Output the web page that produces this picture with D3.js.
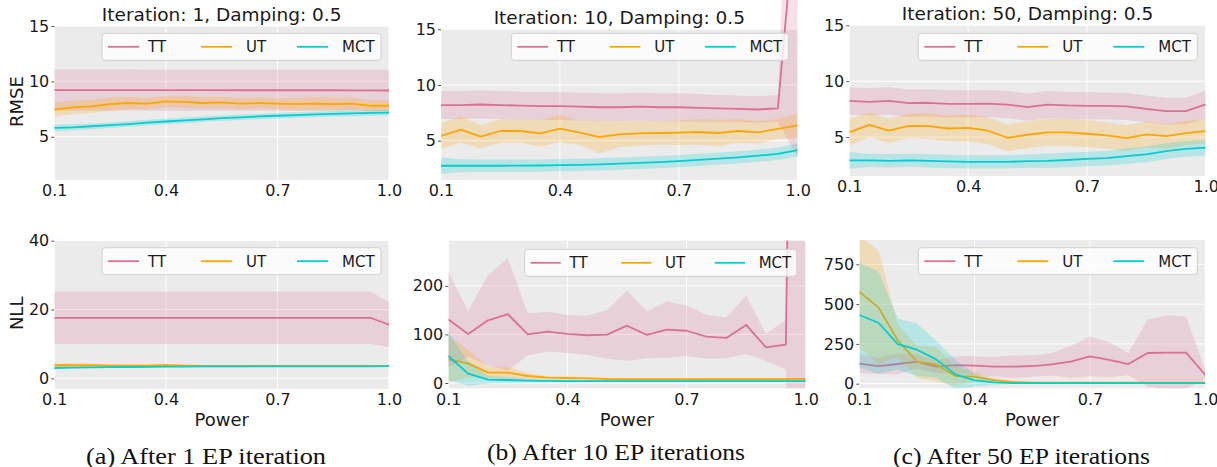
<!DOCTYPE html>
<html>
<head>
<meta charset="utf-8">
<script src="https://cdn.jsdelivr.net/npm/d3@7/dist/d3.min.js"></script>
<style>
  html, body { margin: 0; padding: 0; background: #ffffff; }
  svg { display: block; }
</style>
</head>
<body>
<svg id="chart" width="1217" height="467"></svg>
<script>
// EP power sweep: RMSE / NLL for the three moment-matching methods
const powers = [0.1, 0.15, 0.2, 0.25, 0.3, 0.35, 0.4, 0.45, 0.5, 0.55, 0.6, 0.65, 0.7, 0.75, 0.8, 0.85, 0.9, 0.95, 1.0];
const methods = ["TT", "UT", "MCT"];
const xTickValues = [0.1, 0.4, 0.7, 1.0];
const rmseTicks = [5, 10, 15];
const nllTicks1 = [0, 20, 40];
const nllTicks10 = [0, 100, 200];
const nllTicks50 = [0, 250, 500, 750];
const titles = ["Iteration: 1, Damping: 0.5", "Iteration: 10, Damping: 0.5", "Iteration: 50, Damping: 0.5"];
const captions = ["(a) After 1 EP iteration", "(b) After 10 EP iterations", "(c) After 50 EP iterations"];

// ---- RMSE after 1 iteration
const rmse1TT     = [9.22, 9.22, 9.22, 9.22, 9.22, 9.21, 9.21, 9.21, 9.21, 9.21, 9.2, 9.2, 9.2, 9.2, 9.2, 9.2, 9.19, 9.19, 9.18];
const rmse1TTStd  = [1.85, 1.85, 1.85, 1.85, 1.85, 1.85, 1.85, 1.85, 1.85, 1.85, 1.85, 1.85, 1.85, 1.85, 1.85, 1.85, 1.85, 1.85, 1.85];
const rmse1UT     = [7.45, 7.65, 7.75, 7.95, 8.05, 8.0, 8.2, 8.15, 8.05, 8.1, 8.0, 8.05, 8.0, 7.95, 8.0, 7.95, 8.0, 7.8, 7.8];
const rmse1UTStd  = [0.65, 0.6, 0.6, 0.6, 0.55, 0.5, 0.5, 0.5, 0.5, 0.5, 0.5, 0.5, 0.5, 0.55, 0.6, 0.6, 0.55, 0.5, 0.5];
const rmse1MCT    = [5.8, 5.85, 5.95, 6.05, 6.15, 6.28, 6.38, 6.48, 6.58, 6.68, 6.76, 6.84, 6.9, 6.96, 7.02, 7.07, 7.11, 7.15, 7.18];
const rmse1MCTStd = [0.3, 0.28, 0.26, 0.25, 0.25, 0.25, 0.25, 0.25, 0.25, 0.25, 0.25, 0.25, 0.25, 0.25, 0.25, 0.25, 0.25, 0.25, 0.25];

// ---- RMSE after 10 iterations
const rmse10TT     = [8.2, 8.2, 8.25, 8.2, 8.15, 8.1, 8.1, 8.05, 8.0, 8.0, 8.05, 8.0, 8.0, 7.95, 7.9, 7.85, 7.8, 7.9, 28];
const rmse10TTStd  = [1.25, 1.25, 1.25, 1.25, 1.25, 1.25, 1.25, 1.25, 1.25, 1.25, 1.25, 1.25, 1.25, 1.25, 1.2, 1.2, 1.2, 1.2, 24.5];
const rmse10UT     = [5.42, 5.99, 5.36, 5.87, 5.87, 5.66, 6.08, 5.72, 5.33, 5.57, 5.66, 5.69, 5.72, 5.78, 5.69, 5.87, 5.75, 6.05, 6.38];
const rmse10UTStd  = [1.15, 1.17, 1.04, 1.05, 1.05, 1.2, 1.22, 1.1, 1.45, 1.15, 1.1, 1.05, 1.1, 1.15, 1.2, 1.05, 1.0, 0.9, 1.08];
const rmse10MCT    = [2.75, 2.75, 2.75, 2.75, 2.76, 2.77, 2.8, 2.83, 2.88, 2.94, 3.0, 3.08, 3.17, 3.27, 3.38, 3.5, 3.65, 3.82, 4.15];
const rmse10MCTStd = [0.75, 0.58, 0.55, 0.55, 0.55, 0.55, 0.55, 0.55, 0.55, 0.55, 0.55, 0.55, 0.55, 0.55, 0.55, 0.55, 0.55, 0.55, 0.6];

// ---- RMSE after 50 iterations
const rmse50TT     = [8.24, 8.15, 8.24, 8.04, 8.07, 7.98, 7.98, 8.0, 7.9, 7.68, 7.9, 7.83, 7.8, 7.8, 7.74, 7.53, 7.32, 7.32, 7.92];
const rmse50TTStd  = [1.22, 1.22, 1.22, 1.22, 1.22, 1.22, 1.22, 1.22, 1.22, 1.22, 1.22, 1.22, 1.22, 1.2, 1.2, 1.2, 1.2, 1.2, 1.25];
const rmse50UT     = [5.42, 6.1, 5.57, 6.01, 5.98, 5.77, 5.83, 5.57, 4.94, 5.21, 5.42, 5.42, 5.3, 5.15, 4.91, 5.24, 5.09, 5.36, 5.54];
const rmse50UTStd  = [1.2, 1.1, 1.1, 1.1, 1.15, 1.15, 1.2, 1.2, 1.2, 1.2, 1.2, 1.2, 1.2, 1.2, 1.15, 1.15, 1.1, 1.1, 1.1];
const rmse50MCT    = [2.92, 2.92, 2.88, 2.92, 2.88, 2.82, 2.78, 2.78, 2.78, 2.85, 2.88, 2.95, 3.05, 3.12, 3.3, 3.45, 3.75, 3.95, 4.05];
const rmse50MCTStd = [0.75, 0.6, 0.6, 0.6, 0.6, 0.6, 0.6, 0.6, 0.6, 0.6, 0.65, 0.65, 0.65, 0.65, 0.7, 0.7, 0.7, 0.7, 0.7];

// ---- NLL after 1 iteration
const nll1TT     = [17.6, 17.6, 17.6, 17.6, 17.6, 17.6, 17.6, 17.6, 17.6, 17.6, 17.6, 17.6, 17.6, 17.6, 17.6, 17.6, 17.6, 17.6, 15.6];
const nll1TTStd  = [7.6, 7.6, 7.6, 7.6, 7.6, 7.6, 7.6, 7.6, 7.6, 7.6, 7.6, 7.6, 7.6, 7.6, 7.6, 7.6, 7.6, 7.6, 6.5];
const nll1UT     = [3.8, 3.8, 3.8, 3.7, 3.7, 3.7, 3.8, 3.7, 3.6, 3.6, 3.6, 3.6, 3.6, 3.6, 3.6, 3.6, 3.6, 3.6, 3.6];
const nll1UTStd  = [0.6, 0.6, 0.5, 0.4, 0.35, 0.35, 0.4, 0.35, 0.3, 0.3, 0.3, 0.3, 0.3, 0.3, 0.3, 0.3, 0.3, 0.3, 0.3];
const nll1MCT    = [3.0, 3.1, 3.2, 3.25, 3.3, 3.35, 3.4, 3.4, 3.45, 3.45, 3.45, 3.5, 3.5, 3.5, 3.5, 3.5, 3.5, 3.5, 3.55];
const nll1MCTStd = [0.2, 0.2, 0.2, 0.2, 0.2, 0.2, 0.2, 0.2, 0.2, 0.2, 0.2, 0.2, 0.2, 0.2, 0.2, 0.2, 0.2, 0.2, 0.2];

// ---- NLL after 10 iterations
const nll10TT     = [131, 101, 129, 141.6, 100, 105.8, 101, 98.3, 99.7, 118, 99, 110, 107.6, 95.5, 92.8, 119.6, 73.5, 79, 3000];
const nll10TTStd  = [98, 47, 93, 116, 43, 41, 39, 40, 50, 72, 48, 58, 52, 45, 42, 60, 28, 51, 5000];
const nll10UT     = [48.8, 40.5, 21.3, 21.3, 14.4, 11, 10.3, 9.6, 8.2, 8, 8, 8, 8, 7.8, 7.8, 7.8, 7.8, 7.8, 8.5];
const nll10UTStd  = [48, 28, 12, 12, 6, 3, 2.5, 2, 2, 2, 2, 2, 2, 2, 2, 2, 2, 2, 2];
const nll10MCT    = [55.7, 19.2, 6.9, 6.2, 4.8, 4.2, 4, 4, 4, 4, 4, 4, 4, 4, 4, 4, 4, 4, 4];
const nll10MCTStd = [50, 25, 8, 6, 4, 3, 3, 2, 2, 2, 2, 2, 2, 2, 2, 2, 2, 2, 2];

// ---- NLL after 50 iterations
const nll50TT     = [125.7, 111, 123.6, 138, 107, 117, 113, 107, 107, 111, 121.5, 138, 171.6, 150, 123.6, 192.7, 195, 195, 54.5];
const nll50TTStd  = [60, 50, 65, 45, 40, 55, 60, 60, 70, 68, 70, 100, 125, 110, 70, 210, 235, 225, 30];
const nll50UT     = [577.5, 479, 272, 138, 121.5, 48, 44, 23, 10, 6, 6, 6, 6, 6, 6, 6, 6, 6, 6];
const nll50UTStd  = [350, 360, 100, 100, 110, 60, 30, 15, 8, 4, 3, 3, 3, 3, 3, 3, 3, 3, 3];
const nll50MCT    = [431.6, 383, 249, 213.7, 153, 58.7, 21, 8, 3, 3, 3, 3, 3, 3, 3, 3, 3, 3, 3];
const nll50MCTStd = [330, 320, 160, 165, 117, 90, 40, 15, 5, 3, 3, 3, 3, 3, 3, 3, 3, 3, 3];

const colors = { TT: "#db7093", UT: "#ffa500", MCT: "#00ced1" };
const FONT = "'DejaVu Sans', sans-serif";

// box = [left, right, top, bottom] of each plotting area; clipTop lets a curve run past the frame
const panels = [
  { title: titles[0], ylabel: "RMSE", box: [54.3, 389, 26, 180], yDomain: [1.1, 15], ticks: rmseTicks,
    series: { TT: [rmse1TT, rmse1TTStd], UT: [rmse1UT, rmse1UTStd], MCT: [rmse1MCT, rmse1MCTStd] },
    legend: [381, 33.3, 279] },
  { title: titles[1], box: [441, 797.7, 29.3, 180], yDomain: [1.47, 15], ticks: rmseTicks,
    series: { TT: [rmse10TT, rmse10TTStd], UT: [rmse10UT, rmse10UTStd], MCT: [rmse10MCT, rmse10MCTStd] },
    legend: [788.3, 33.3, 277], clipTop: 0 },
  { title: titles[2], box: [849.3, 1205.7, 25.3, 176], yDomain: [1.52, 15], ticks: rmseTicks,
    series: { TT: [rmse50TT, rmse50TTStd], UT: [rmse50UT, rmse50UTStd], MCT: [rmse50MCT, rmse50MCTStd] },
    legend: [1197.3, 33.3, 279] },
  { ylabel: "NLL", xlabel: "Power", box: [54.3, 389, 240.7, 389], yDomain: [-3.1, 40], ticks: nllTicks1,
    series: { TT: [nll1TT, nll1TTStd], UT: [nll1UT, nll1UTStd], MCT: [nll1MCT, nll1MCTStd] },
    legend: [381, 247.7, 279] },
  { xlabel: "Power", box: [448.3, 805.7, 240.7, 388.3], yDomain: [-10.9, 293], ticks: nllTicks10,
    series: { TT: [nll10TT, nll10TTStd], UT: [nll10UT, nll10UTStd], MCT: [nll10MCT, nll10MCTStd] },
    legend: [796.7, 249.3, 272] },
  { xlabel: "Power", box: [859.3, 1205.3, 240, 388.3], yDomain: [-29, 903], ticks: nllTicks50,
    series: { TT: [nll50TT, nll50TTStd], UT: [nll50UT, nll50UTStd], MCT: [nll50MCT, nll50MCTStd] },
    legend: [1197.3, 247.7, 279] }
];

const svg = d3.select("#chart");
const defs = svg.append("defs");

panels.forEach((p, pi) => {
  const [x0, x1, y0, y1] = p.box;
  const x = d3.scaleLinear().domain([0.1, 1.0]).range([x0, x1]);
  const y = d3.scaleLinear().domain(p.yDomain).range([y1, y0]);
  const g = svg.append("g");

  // plot background
  g.append("rect").attr("x", x0).attr("y", y0).attr("width", x1 - x0).attr("height", y1 - y0)
    .attr("fill", "#ebebeb");

  // grid
  g.append("g").selectAll("line").data(p.ticks).join("line")
    .attr("x1", x0).attr("x2", x1).attr("y1", d => y(d)).attr("y2", d => y(d))
    .attr("stroke", "#ffffff").attr("stroke-width", 1);
  g.append("g").selectAll("line").data(xTickValues).join("line")
    .attr("x1", d => x(d)).attr("x2", d => x(d)).attr("y1", y0).attr("y2", y1)
    .attr("stroke", "#ffffff").attr("stroke-width", 1);

  // y axis (ticks + labels)
  const yAxis = d3.axisLeft(y).tickValues(p.ticks).tickSize(3).tickPadding(2).tickFormat(d3.format("d"));
  const ya = g.append("g").attr("transform", `translate(${x0},0)`).call(yAxis);
  ya.select(".domain").remove();
  ya.selectAll(".tick line").attr("stroke", "#555555");
  ya.selectAll(".tick text").attr("font-family", FONT).attr("font-size", 16).attr("fill", "#1a1a1a");

  // x axis labels
  const xAxis = d3.axisBottom(x).tickValues(xTickValues).tickSize(0).tickPadding(5).tickFormat(d3.format(".1f"));
  const xa = g.append("g").attr("transform", `translate(0,${y1})`).call(xAxis);
  xa.select(".domain").remove();
  xa.selectAll(".tick text").attr("font-family", FONT).attr("font-size", 16).attr("fill", "#1a1a1a");

  // clip for data
  const clipId = "clip" + pi;
  const cTop = p.clipTop !== undefined ? p.clipTop : y0;
  defs.append("clipPath").attr("id", clipId).append("rect")
    .attr("x", x0).attr("y", cTop).attr("width", x1 - x0).attr("height", y1 - cTop);
  const dg = g.append("g").attr("clip-path", `url(#${clipId})`);

  methods.forEach(m => {
    const [mean, sd] = p.series[m];
    const rows = powers.map((pw, i) => ({ pw, m: mean[i], s: sd[i] }));
    dg.append("path").datum(rows)
      .attr("d", d3.area().x(d => x(d.pw)).y0(d => y(d.m - d.s)).y1(d => y(d.m + d.s)))
      .attr("fill", colors[m]).attr("fill-opacity", 0.22).attr("stroke", "none");
    dg.append("path").datum(rows)
      .attr("d", d3.line().x(d => x(d.pw)).y(d => y(d.m)))
      .attr("fill", "none").attr("stroke", colors[m]).attr("stroke-width", 1.8)
      .attr("stroke-linejoin", "round");
  });

  // legend
  const [lr, lt, lw] = p.legend;
  const k = lw / 279;
  const lg = g.append("g").attr("transform", `translate(${lr - lw},${lt})`);
  lg.append("rect").attr("x", 0).attr("y", 0).attr("width", lw).attr("height", 27)
    .attr("rx", 3).attr("fill", "#ffffff").attr("fill-opacity", 0.8)
    .attr("stroke", "#d0d0d0").attr("stroke-width", 1);
  const handleX = [6, 99, 195], textX = [46, 144, 240];
  methods.forEach((m, i) => {
    lg.append("line").attr("x1", handleX[i] * k).attr("x2", handleX[i] * k + 31 * k)
      .attr("y1", 13.5).attr("y2", 13.5).attr("stroke", colors[m]).attr("stroke-width", 1.8);
    lg.append("text").attr("x", textX[i] * k).attr("y", 19).attr("font-family", FONT)
      .attr("font-size", 15).attr("fill", "#1a1a1a").text(m);
  });

  // titles / labels
  if (p.title) {
    svg.append("text").attr("x", (x0 + x1) / 2).attr("y", y0 - 5).attr("text-anchor", "middle")
      .attr("font-family", FONT).attr("font-size", 18.5).attr("fill", "#1a1a1a").text(p.title);
  }
  if (p.ylabel) {
    svg.append("text").attr("transform", `translate(23,${(y0 + y1) / 2 - 1.5}) rotate(-90)`)
      .attr("text-anchor", "middle").attr("font-family", FONT).attr("font-size", 18)
      .attr("fill", "#1a1a1a").text(p.ylabel);
  }
  if (p.xlabel) {
    svg.append("text").attr("x", (x0 + x1) / 2).attr("y", 425.5).attr("text-anchor", "middle")
      .attr("font-family", FONT).attr("font-size", 18).attr("fill", "#1a1a1a").text(p.xlabel);
  }
});

// sub-figure captions
const capX = [206, 616, 1021.5], capY = [464, 460, 464], capW = [240, 258, 257];
captions.forEach((c, i) => {
  svg.append("text").attr("x", capX[i] - capW[i] / 2).attr("y", capY[i])
    .attr("textLength", capW[i]).attr("lengthAdjust", "spacingAndGlyphs")
    .attr("font-family", "'Liberation Serif', 'DejaVu Serif', serif").attr("font-size", 23.5)
    .attr("fill", "#111").text(c);
});
</script>
</body>
</html>
